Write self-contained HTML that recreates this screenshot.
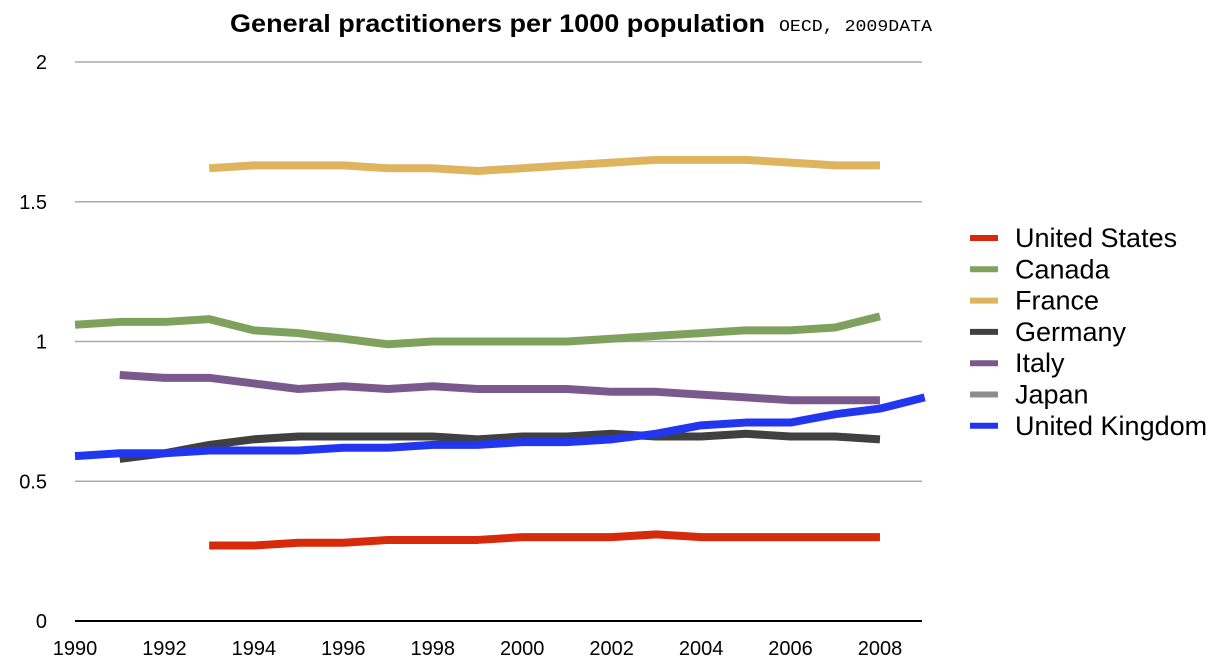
<!DOCTYPE html>
<html><head><meta charset="utf-8"><style>
body{margin:0;background:#fff;}
svg{display:block;font-family:"Liberation Sans",sans-serif;}
</style></head><body>
<svg id="chart" width="1228" height="668"></svg>
<script>
const years = [1990,1991,1992,1993,1994,1995,1996,1997,1998,1999,2000,2001,2002,2003,2004,2005,2006,2007,2008,2009];
const usData = [null,null,null,.27,.27,.28,.28,.29,.29,.29,.30,.30,.30,.31,.30,.30,.30,.30,.30,null];
const canadaData = [1.06,1.07,1.07,1.08,1.04,1.03,1.01,0.99,1.00,1.00,1.00,1.00,1.01,1.02,1.03,1.04,1.04,1.05,1.09,null];
const franceData = [null,null,null,1.62,1.63,1.63,1.63,1.62,1.62,1.61,1.62,1.63,1.64,1.65,1.65,1.65,1.64,1.63,1.63,null];
const germanyData = [null,.58,.60,.63,.65,.66,.66,.66,.66,.65,.66,.66,.67,.66,.66,.67,.66,.66,.65,null];
const italyData = [null,.88,.87,.87,.85,.83,.84,.83,.84,.83,.83,.83,.82,.82,.81,.80,.79,.79,.79,null];
const japanData = years.map(()=>null);
const ukData = [.59,.60,.60,.61,.61,.61,.62,.62,.63,.63,.64,.64,.65,.67,.70,.71,.71,.74,.76,.80];
const seriesNames = ["United States","Canada","France","Germany","Italy","Japan","United Kingdom"];
const seriesData = [usData,canadaData,franceData,germanyData,italyData,japanData,ukData];
const colors = ["#d52b0a","#7ea25e","#dfb45e","#404040","#7a5a8c","#8c8c8c","#2336ef"];
const yTicks = [0,0.5,1,1.5,2];
const yTickLabels = ["0","0.5","1","1.5","2"];
const xTicks = [1990,1992,1994,1996,1998,2000,2002,2004,2006,2008];

const NS="http://www.w3.org/2000/svg";
const svg=document.getElementById('chart');
const x=v=>75+(v-1990)*44.72;
const y=v=>621-v*279.5;
function mk(t,a,p){const e=document.createElementNS(NS,t);for(const k in a)e.setAttribute(k,a[k]);(p||svg).appendChild(e);return e;}

const title=mk('text',{x:230,y:32,'font-size':25,'font-weight':'bold',fill:'#000',textLength:535,lengthAdjust:'spacingAndGlyphs'});


title.textContent='General practitioners per 1000 population';
const sub=mk('text',{x:779,y:31,'font-size':17,fill:'#000','font-family':'"Liberation Mono",monospace',textLength:153,lengthAdjust:'spacingAndGlyphs'});


sub.textContent='OECD, 2009DATA';

yTicks.forEach((t,i)=>{
  const g=mk('line',{x1:75,x2:922,y1:y(t),y2:y(t),stroke:t===0?'#000':'#aaa','stroke-width':t===0?2:1.5});
  
  
  const l=mk('text',{x:47,y:y(t)+7,'font-size':20,'text-anchor':'end',fill:'#000'});
  
  
  l.textContent=yTickLabels[i];
});
xTicks.forEach(t=>{
  const l=mk('text',{x:x(t),y:655,'font-size':20,'text-anchor':'middle',fill:'#000'});
  
  
  l.textContent=t;
});
seriesData.forEach((d,s)=>{
  const pts=[];d.forEach((v,i)=>{if(v!==null)pts.push(x(years[i])+','+y(v));});
  if(pts.length<2)return;
  const p=mk('polyline',{points:pts.join(' '),fill:'none',stroke:colors[s],'stroke-width':8,'stroke-linejoin':'round'});
  
  
});
seriesNames.forEach((n,s)=>{
  const yy=238+s*31.3;
  const g=mk('g',{});
  
  
  mk('line',{x1:970,x2:998,y1:yy,y2:yy,stroke:colors[s],'stroke-width':6},g);
  const t=mk('text',{x:1015,y:yy+9,'font-size':27,fill:'#000'},g);
  t.textContent=n;
});
</script>
</body></html>
